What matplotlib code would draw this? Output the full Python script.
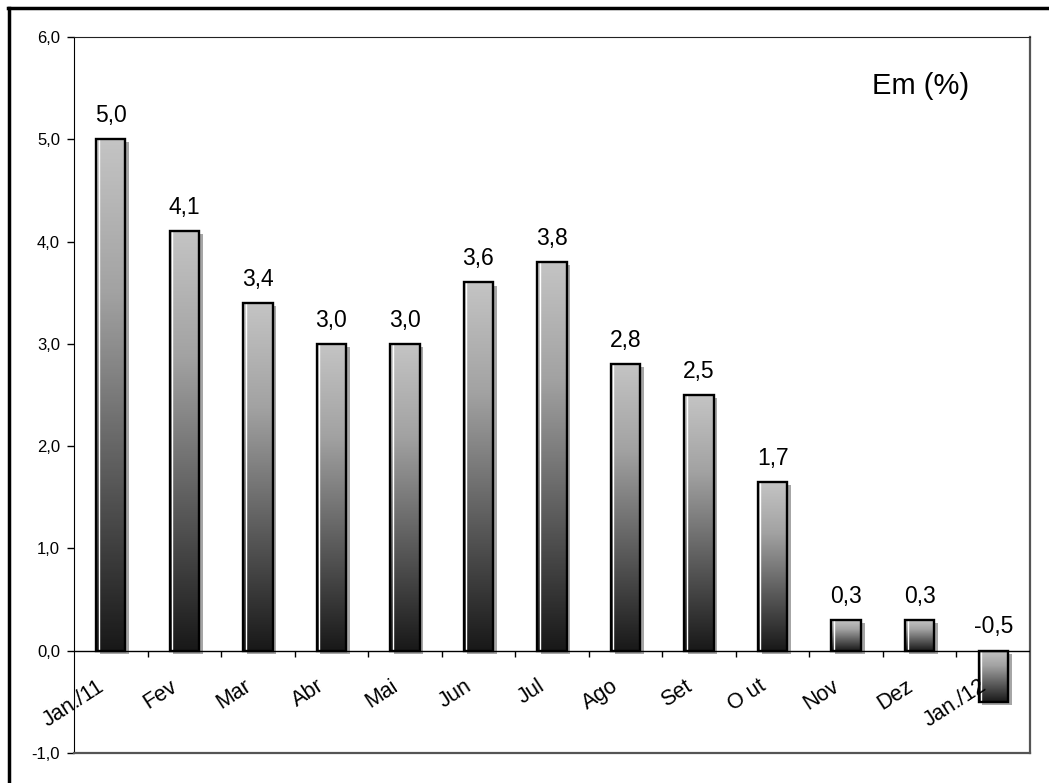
import matplotlib.pyplot as plt
import numpy as np
from matplotlib.colors import LinearSegmentedColormap
from matplotlib.patches import Rectangle
from matplotlib.lines import Line2D

months = ['Jan./11', 'Fev', 'Mar', 'Abr', 'Mai', 'Jun', 'Jul',
          'Ago', 'Set', 'O ut', 'Nov', 'Dez', 'Jan./12']
values = [5.0, 4.1, 3.4, 3.0, 3.0, 3.6, 3.8, 2.8, 2.5, 1.65, 0.3, 0.3, -0.5]
value_labels = ['5,0', '4,1', '3,4', '3,0', '3,0', '3,6', '3,8',
                '2,8', '2,5', '1,7', '0,3', '0,3', '-0,5']
y_ticks = [-1, 0, 1, 2, 3, 4, 5, 6]

plt.rcParams['font.family'] = ['Liberation Sans', 'DejaVu Sans']

fig = plt.figure(figsize=(10.49, 7.83), dpi=100)
ax = fig.add_axes([74 / 1049, 1 - 753 / 783, 956 / 1049, 716 / 783])

cmap = LinearSegmentedColormap.from_list(
    'bar', [(0, '#181818'), (0.35, '#5c5c5c'), (0.7, '#a2a2a2'), (1, '#c4c4c4')])
grad = np.linspace(0, 1, 256).reshape(-1, 1)
width = 0.4

for i, v in enumerate(values):
    x0 = i - width / 2
    lo, hi = min(v, 0), max(v, 0)
    # shadow
    ax.add_patch(Rectangle((x0 + 0.05, lo - 0.03), width, hi - lo,
                           facecolor='#3a3a3a', alpha=0.45, edgecolor='none',
                           zorder=1))
    ax.imshow(grad, extent=(x0, x0 + width, lo, hi), origin='lower',
              cmap=cmap, aspect='auto', zorder=2)
    ax.plot([x0 + 0.035, x0 + 0.035], [lo, hi], color='white', lw=1, zorder=3)
    ax.add_patch(Rectangle((x0, lo), width, hi - lo, fill=False,
                           edgecolor='black', lw=1.7, zorder=4))
    ax.text(i, hi + 0.12, value_labels[i], ha='center', va='bottom',
            fontsize=16.5)

ax.set_xlim(-0.5, len(values) - 0.5)
ax.set_ylim(-1, 6)

# x axis line at zero with category boundary ticks
ax.axhline(0, color='black', lw=1, zorder=5)
ax.vlines(np.arange(len(values)) + 0.5, -0.06, 0, color='black', lw=1)
ax.set_xticks([])
for i, m in enumerate(months):
    ax.text(i - 0.12, -0.33, m, rotation=33, ha='right', va='center',
            rotation_mode='anchor', fontsize=15.5)

ax.set_yticks(y_ticks)
ax.set_yticklabels([f'{t:.1f}'.replace('.', ',') for t in y_ticks], fontsize=12)
ax.tick_params(axis='y', direction='out', length=5, width=1, pad=5)

ax.spines['left'].set_color('black')
ax.spines['top'].set_color('#222222')
ax.spines['right'].set_color('#555555')
ax.spines['bottom'].set_color('#555555')
ax.spines['right'].set_linewidth(1.6)
ax.spines['bottom'].set_linewidth(1.6)

fig.text(872 / 1049, 1 - 86 / 783, 'Em (%)', fontsize=21, va='center')

# outer frame (top and left only)
fig.add_artist(Line2D([8 / 1049, 1], [1 - 8 / 783, 1 - 8 / 783],
                      color='black', lw=2.5, transform=fig.transFigure))
fig.add_artist(Line2D([8.5 / 1049, 8.5 / 1049], [0, 1 - 8 / 783],
                      color='black', lw=2.5, transform=fig.transFigure))

fig.savefig('out.png', dpi=100)
